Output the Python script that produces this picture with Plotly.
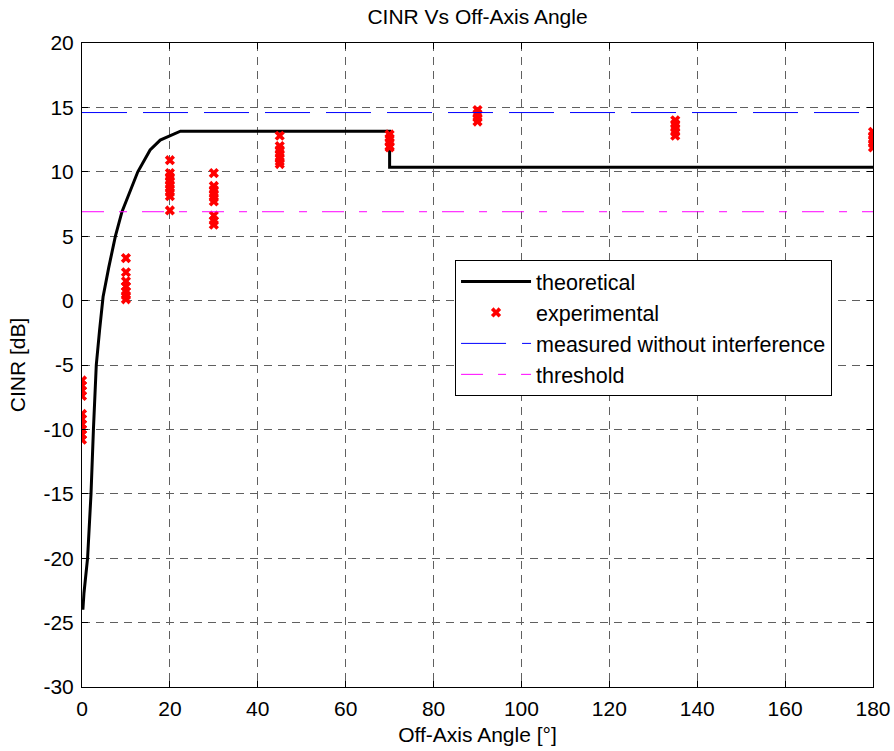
import plotly.graph_objects as go

# Theoretical CINR curve
theory_angle = [0.2, 0.45, 1.27, 2.05, 2.6, 3.25, 4.0, 4.8, 6.1, 7.6, 9.1, 12.7, 15.5, 17.8, 22.4, 70.0, 70.0, 180.0]
theory_cinr = [-24.0, -22.7, -20.0, -15.0, -10.0, -5.0, -2.3, 0.3, 2.6, 5.0, 6.9, 10.0, 11.7, 12.46, 13.15, 13.15, 10.35, 10.35]

# Experimental measurements
exp_angle = (
    [0] * 10 + [10] * 7 + [20] * 9 + [30] * 9 + [45] * 7 + [70] * 5 + [90] * 4 + [135] * 5 + [180] * 5
)
exp_cinr = (
    [-6.2, -6.6, -7.0, -7.4, -8.8, -9.2, -9.6, -10.0, -10.4, -10.8]
    + [3.3, 2.2, 1.5, 1.1, 0.7, 0.4, 0.1]
    + [10.9, 9.9, 9.6, 9.3, 9.0, 8.7, 8.4, 8.1, 7.0]
    + [9.9, 8.9, 8.6, 8.3, 8.0, 7.7, 6.6, 6.2, 5.9]
    + [12.8, 12.0, 11.7, 11.4, 11.1, 10.8, 10.6]
    + [12.9, 12.6, 12.3, 12.0, 11.9]
    + [14.8, 14.5, 14.2, 13.9]
    + [14.0, 13.7, 13.4, 13.1, 12.8]
    + [13.1, 12.8, 12.5, 12.2, 11.9]
)

ref_range = [0, 180]
no_interference = [14.6, 14.6]
threshold = [6.9, 6.9]

x_ticks = list(range(0, 181, 20))
y_ticks = list(range(-30, 21, 5))
y_tick_labels = ["-30", "-25", "-20", "-15", "-10", "-5", "0", "5", "10", "15", "20"]

FONT = "Liberation Sans, Arial, sans-serif"
FS = 21
W, H = 894, 751

fig = go.Figure()
fig.add_trace(go.Scatter(x=theory_angle, y=theory_cinr, mode="lines", name="theoretical",
                         line=dict(color="black", width=3), legendgroup="a"))
fig.add_trace(go.Scatter(x=exp_angle, y=exp_cinr, mode="markers", name="experimental",
                         marker=dict(symbol="x", size=9, color="red", line=dict(width=0)), legendgroup="b"))
fig.add_trace(go.Scatter(x=ref_range, y=no_interference, mode="lines", name="measured without interference",
                         line=dict(color="#0000ff", width=1, dash="45px,16px"), legendgroup="c"))
fig.add_trace(go.Scatter(x=ref_range, y=threshold, mode="lines", name="threshold",
                         line=dict(color="#ff00ff", width=1, dash="22px,15px,8px,15px"), legendgroup="d"))

axis_common = dict(
    showline=True, linecolor="black", linewidth=1, mirror="ticks",
    ticks="inside", ticklen=6, tickcolor="black",
    showgrid=True, gridcolor="#606060", gridwidth=1, griddash="8px,6px",
    zeroline=False, tickfont=dict(family=FONT, size=FS, color="black"),
    automargin=False, ticklabelstandoff=3,
)

fig.update_xaxes(range=ref_range, tickvals=x_ticks, **axis_common,
                 title=dict(text="Off-Axis Angle [°]", font=dict(family=FONT, size=FS, color="black"), standoff=8))
fig.update_yaxes(range=[-30, 20], tickvals=y_ticks, ticktext=y_tick_labels, **axis_common,
                 title=dict(text="CINR [dB]", font=dict(family=FONT, size=FS, color="black"), standoff=12))

fig.update_layout(
    width=W, height=H,
    margin=dict(l=82, r=21, t=43, b=64),
    paper_bgcolor="white", plot_bgcolor="white",
    font=dict(family=FONT, size=FS, color="black"),
    title=dict(text="CINR Vs Off-Axis Angle", x=0.5, xref="paper", xanchor="center",
               y=1 - 17 / H, yref="container", yanchor="middle",
               font=dict(family=FONT, size=FS, color="black"), automargin=False),
    legend=dict(x=0.4716, y=0.663, xanchor="left", yanchor="top",
                bgcolor="white", bordercolor="black", borderwidth=1,
                itemwidth=70, tracegroupgap=0, font=dict(family=FONT, size=21.5, color="black")),
    showlegend=True,
)

fig.write_html("out.html", config={"displayModeBar": False},
               post_script="document.body.style.margin='0';")
